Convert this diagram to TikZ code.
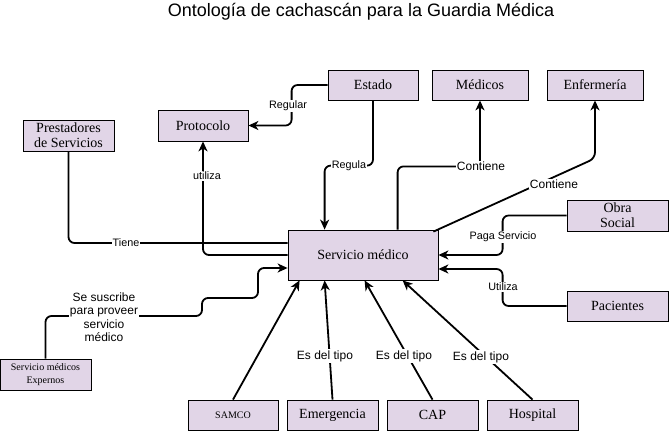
\documentclass[tikz,border=0pt]{standalone}
\usepackage{fontspec}
\setmainfont{Liberation Serif}
\newfontfamily\lsans{Liberation Sans}
\usetikzlibrary{arrows.meta,calc}
\definecolor{boxfill}{RGB}{225,213,231}
\tikzset{
  box/.style={draw=black, fill=boxfill, line width=0.8pt, inner sep=1pt, align=center, font=\fontsize{14}{15}\selectfont},
  smallbox/.style={box, font=\fontsize{10}{13}\selectfont},
  conn/.style={line width=1.8pt, rounded corners=6pt},
  arr/.style={conn, -{Stealth[length=10pt,width=9pt,inset=3pt]}},
  lbl/.style={fill=white, inner sep=1pt, font=\lsans\fontsize{12}{13.5}\selectfont, align=center},
  slbl/.style={lbl, font=\lsans\fontsize{10.8}{12}\selectfont}
}
\begin{document}
\begin{tikzpicture}[x=1pt,y=-1pt]
\useasboundingbox (0,0) rectangle (669,431);
\node[font=\lsans\fontsize{18}{20}\selectfont] (title) at (361,12) {Ontología de cachascán para la Guardia Médica};

\node[box, minimum width=90pt, minimum height=30pt] (Estado) at (373,85) {Estado};
\node[box, minimum width=96pt, minimum height=30pt] (Medicos) at (480,85) {Médicos};
\node[box, minimum width=96pt, minimum height=30pt] (Enfermeria) at (595,85) {Enfermería};
\node[box, minimum width=90pt, minimum height=31pt] (Protocolo) at (203,125.5) {Protocolo};
\node[box, minimum width=91pt, minimum height=31pt, font=\fontsize{14}{15}\selectfont] (Prestadores) at (68.5,135.5) {Prestadores\\de Servicios};
\node[box, minimum width=150pt, minimum height=50pt] (Servicio) at (363,255) {Servicio médico};
\node[box, minimum width=101pt, minimum height=31pt, font=\fontsize{14}{15}\selectfont] (Obra) at (617.5,215.5) {Obra\\Social};
\node[box, minimum width=101pt, minimum height=30pt] (Pacientes) at (617.5,306) {Pacientes};
\node[smallbox, minimum width=91pt, minimum height=31pt] (Expernos) at (45.5,374.5) {Servicio médicos\\Expernos};
\node[smallbox, minimum width=90pt, minimum height=30pt] (SAMCO) at (233,415) {SAMCO};
\node[box, minimum width=91pt, minimum height=30pt] (Emergencia) at (332.5,415) {Emergencia};
\node[box, minimum width=91pt, minimum height=30pt] (CAP) at (432.5,415) {CAP};
\node[box, minimum width=91pt, minimum height=30pt] (Hospital) at (532.5,415) {Hospital};

% Estado -> Protocolo
\draw[arr] (Estado.west) -- ++(-36,0) |- (Protocolo.east);
\node[slbl] (lRegular) at (288,106) {Regular};
% Estado -> Servicio
\draw[arr] (Estado.south) |- ($(Servicio.north west)+(37,-64)$) -- ($(Servicio.north west)+(37,0)$);
\node[slbl] (lRegula) at (349,166) {Regula};
% Servicio -> Medicos
\draw[arr] ($(Servicio.north west)+(110,0)$) |- ($(Medicos.south)+(0,66)$) -- (Medicos.south);
\node[lbl] (lCont1) at (481,166) {Contiene};
% Servicio -> Enfermeria
\draw[arr] ($(Servicio.north east)+(-5,2)$) -- ($(Enfermeria.south)+(0,58)$) -- (Enfermeria.south);
\node[lbl] (lCont2) at (554,184) {Contiene};
% Servicio -> Prestadores
\draw[conn] ($(Servicio.west)+(0,-12)$) -| (Prestadores.south);
\node[slbl] (lTiene) at (126,243) {Tiene};
% Servicio -> Protocolo
\draw[arr] (Servicio.west) -| (Protocolo.south);
\node[slbl] (lUtiliza1) at (207,176) {utiliza};
% Obra -> Servicio
\draw[arr] (Obra.west) -- ++(-64,0) |- (Servicio.east);
\node[slbl] (lPaga) at (503,237) {Paga Servicio};
% Pacientes -> Servicio
\draw[arr] (Pacientes.west) -- ++(-64,0) |- ($(Servicio.east)+(0,14)$);
\node[slbl] (lUtiliza2) at (503,287) {Utiliza};
% Expernos -> Servicio
\coordinate (e1) at (202,316);
\coordinate (e2) at (258,298);
\draw[arr] (Expernos.north) |- (e1) |- (e2) |- ($(Servicio.west)+(0,13)$);
\node[lbl] (lSus) at (104,317) {Se suscribe\\para proveer\\servicio\\médico};
% tipos
\draw[arr] (SAMCO.north) -- ($(Servicio.south west)+(12,0)$);
\draw[arr] (Emergencia.north) -- ($(Servicio.south west)+(37,0)$);
\node[lbl] (lTipo1) at (325,356) {Es del tipo};
\draw[arr] (CAP.north) -- ($(Servicio.south west)+(77,0)$);
\node[lbl] (lTipo2) at (404,356) {Es del tipo};
\draw[arr] (Hospital.north) -- ($(Servicio.south west)+(115,0)$);
\node[lbl] (lTipo3) at (481,357) {Es del tipo};
\end{tikzpicture}
\end{document}
